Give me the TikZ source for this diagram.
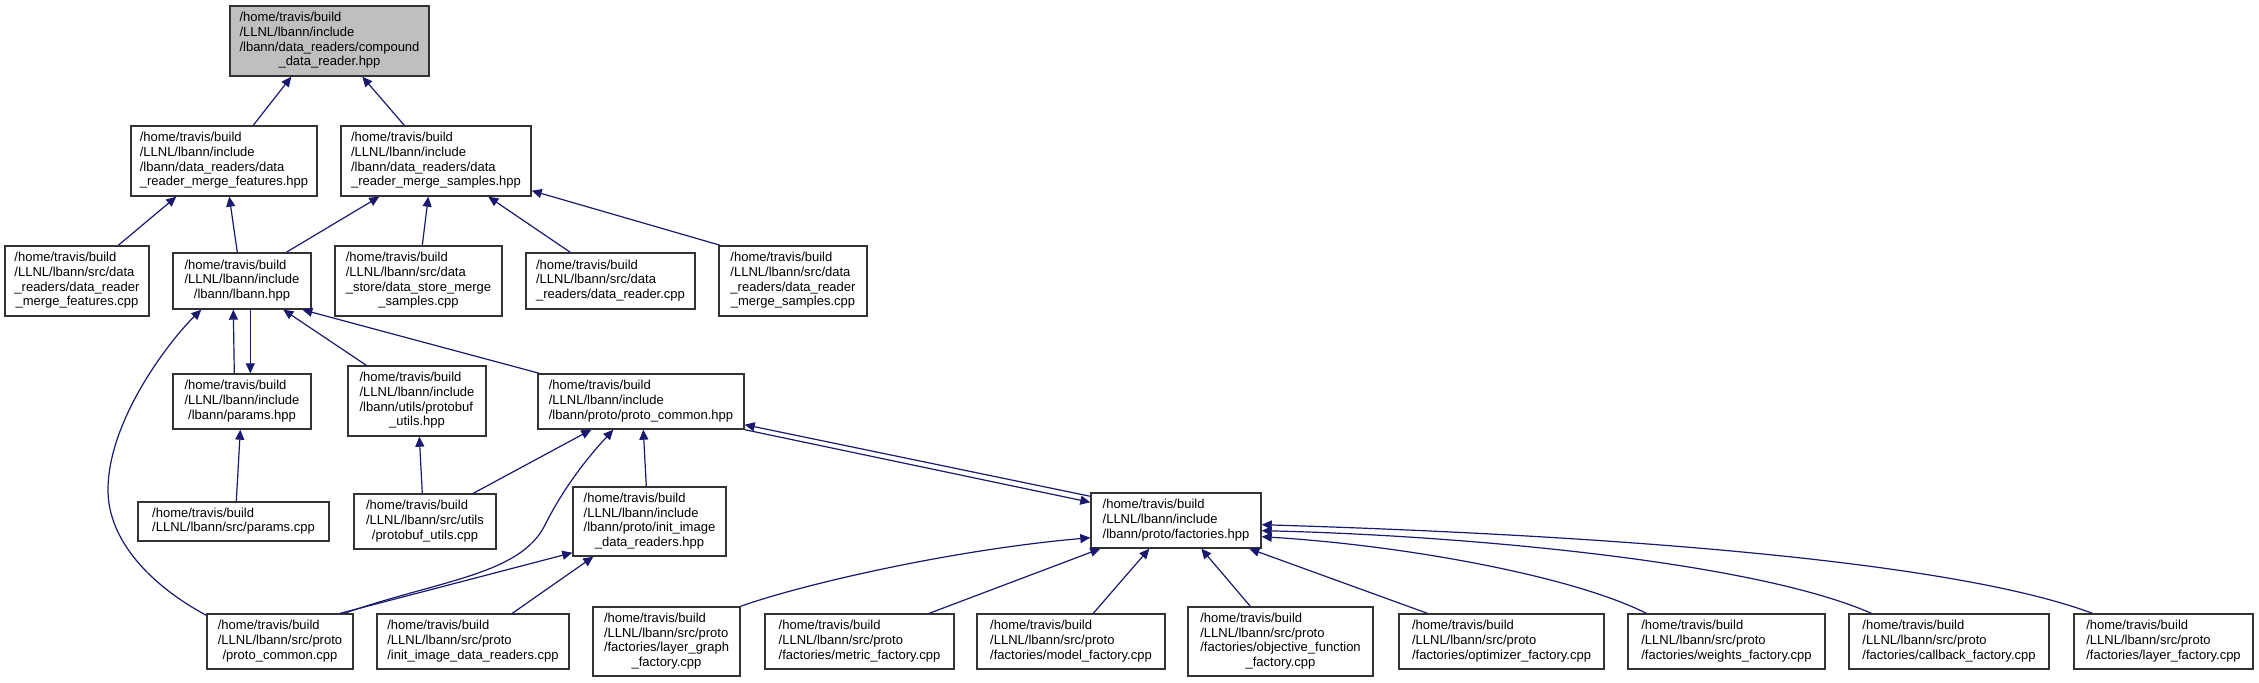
\documentclass[tikz,border=0pt]{standalone}
\usepackage{fontspec}
\setmainfont{Liberation Sans}
\usetikzlibrary{arrows.meta}
\definecolor{edgeblue}{HTML}{191970}
\definecolor{rootgray}{HTML}{BFBFBF}
\newcommand\lastln[1]{\multicolumn{1}{@{}c@{}}{#1}}
\newcommand\tb[1]{\begin{tabular}{@{}l@{}}#1\end{tabular}}
\begin{document}
\begin{tikzpicture}[x=0.5pt,y=-0.5pt,
  box/.style={draw=black!80, line width=0.7pt, fill=white, inner sep=0pt,
    font=\fontsize{6.5pt}{7.35pt}\selectfont},
  rootbox/.style={box, fill=rootgray},
  link/.style={draw=edgeblue, line width=0.6pt, -{Triangle[length=5pt,width=4.5pt]}}]
\fill[white] (0,0) rectangle (2259,683);
\useasboundingbox (0,0) rectangle (2259,683);

% row 0
\node[rootbox, minimum width=99.5pt, minimum height=35pt] (root) at (329.5,41)
  {\tb{/home/travis/build\\/LLNL/lbann/include\\/lbann/data\_readers/compound\\\lastln{\_data\_reader.hpp}}};
% row 1
\node[box, minimum width=93pt, minimum height=35pt] (mfh) at (224,161)
  {\tb{/home/travis/build\\/LLNL/lbann/include\\/lbann/data\_readers/data\\\lastln{\_reader\_merge\_features.hpp}}};
\node[box, minimum width=95pt, minimum height=35pt] (msh) at (436,161)
  {\tb{/home/travis/build\\/LLNL/lbann/include\\/lbann/data\_readers/data\\\lastln{\_reader\_merge\_samples.hpp}}};
% row 2
\node[box, minimum width=72pt, minimum height=35pt] (mfc) at (77,281)
  {\tb{/home/travis/build\\/LLNL/lbann/src/data\\\_readers/data\_reader\\\lastln{\_merge\_features.cpp}}};
\node[box, minimum width=69pt, minimum height=28pt] (lbh) at (242,281)
  {\tb{/home/travis/build\\/LLNL/lbann/include\\\lastln{/lbann/lbann.hpp}}};
\node[box, minimum width=83.5pt, minimum height=35pt] (dsc) at (418.5,281)
  {\tb{/home/travis/build\\/LLNL/lbann/src/data\\\_store/data\_store\_merge\\\lastln{\_samples.cpp}}};
\node[box, minimum width=84.5pt, minimum height=28pt] (drc) at (610.5,281)
  {\tb{/home/travis/build\\/LLNL/lbann/src/data\\\lastln{\_readers/data\_reader.cpp}}};
\node[box, minimum width=74pt, minimum height=35pt] (msc) at (793,281)
  {\tb{/home/travis/build\\/LLNL/lbann/src/data\\\_readers/data\_reader\\\lastln{\_merge\_samples.cpp}}};
% row 3
\node[box, minimum width=69pt, minimum height=27.5pt] (parh) at (242,401.5)
  {\tb{/home/travis/build\\/LLNL/lbann/include\\\lastln{/lbann/params.hpp}}};
\node[box, minimum width=69pt, minimum height=35pt] (pbh) at (417,401)
  {\tb{/home/travis/build\\/LLNL/lbann/include\\/lbann/utils/protobuf\\\lastln{\_utils.hpp}}};
\node[box, minimum width=103pt, minimum height=27.5pt] (pch) at (641,401.5)
  {\tb{/home/travis/build\\/LLNL/lbann/include\\\lastln{/lbann/proto/proto\_common.hpp}}};
% row 4
\node[box, minimum width=95.5pt, minimum height=19.5pt] (parc) at (233.5,521.5)
  {\tb{/home/travis/build\\\lastln{/LLNL/lbann/src/params.cpp}}};
\node[box, minimum width=71pt, minimum height=27.5pt] (pbc) at (425,521.5)
  {\tb{/home/travis/build\\/LLNL/lbann/src/utils\\\lastln{/protobuf\_utils.cpp}}};
\node[box, minimum width=76.5pt, minimum height=34.5pt] (iih) at (649.5,521.5)
  {\tb{/home/travis/build\\/LLNL/lbann/include\\/lbann/proto/init\_image\\\lastln{\_data\_readers.hpp}}};
\node[box, minimum width=85pt, minimum height=27.5pt] (fah) at (1176,520.5)
  {\tb{/home/travis/build\\/LLNL/lbann/include\\\lastln{/lbann/proto/factories.hpp}}};
% row 5
\node[box, minimum width=73pt, minimum height=27.5pt] (pcc) at (280,641.5)
  {\tb{/home/travis/build\\/LLNL/lbann/src/proto\\\lastln{/proto\_common.cpp}}};
\node[box, minimum width=96pt, minimum height=27.5pt] (iic) at (473,641.5)
  {\tb{/home/travis/build\\/LLNL/lbann/src/proto\\\lastln{/init\_image\_data\_readers.cpp}}};
\node[box, minimum width=73.5pt, minimum height=34.5pt] (lgf) at (666.5,641.5)
  {\tb{/home/travis/build\\/LLNL/lbann/src/proto\\/factories/layer\_graph\\\lastln{\_factory.cpp}}};
\node[box, minimum width=94.5pt, minimum height=27.5pt] (mef) at (859.5,641.5)
  {\tb{/home/travis/build\\/LLNL/lbann/src/proto\\\lastln{/factories/metric\_factory.cpp}}};
\node[box, minimum width=94pt, minimum height=27.5pt] (mof) at (1071,641.5)
  {\tb{/home/travis/build\\/LLNL/lbann/src/proto\\\lastln{/factories/model\_factory.cpp}}};
\node[box, minimum width=92.5pt, minimum height=34.5pt] (off) at (1280.5,641.5)
  {\tb{/home/travis/build\\/LLNL/lbann/src/proto\\/factories/objective\_function\\\lastln{\_factory.cpp}}};
\node[box, minimum width=102.5pt, minimum height=27.5pt] (opf) at (1501.5,641.5)
  {\tb{/home/travis/build\\/LLNL/lbann/src/proto\\\lastln{/factories/optimizer\_factory.cpp}}};
\node[box, minimum width=98.5pt, minimum height=27.5pt] (wef) at (1726.5,641.5)
  {\tb{/home/travis/build\\/LLNL/lbann/src/proto\\\lastln{/factories/weights\_factory.cpp}}};
\node[box, minimum width=100pt, minimum height=27.5pt] (caf) at (1949,641.5)
  {\tb{/home/travis/build\\/LLNL/lbann/src/proto\\\lastln{/factories/callback\_factory.cpp}}};
\node[box, minimum width=89.5pt, minimum height=27.5pt] (laf) at (2163.5,641.5)
  {\tb{/home/travis/build\\/LLNL/lbann/src/proto\\\lastln{/factories/layer\_factory.cpp}}};

% connectors
\draw[link] ([xshift=61.5pt]mfh.north west) -- ([xshift=31pt]root.south west);
\draw[link] ([xshift=32pt]msh.north west) -- ([xshift=66.5pt]root.south west);
\draw[link] ([xshift=57pt]mfc.north west) -- ([xshift=23pt]mfh.south west);
\draw[link] ([xshift=32.5pt]lbh.north west) -- ([xshift=49.5pt]mfh.south west);
\draw[link] ([xshift=57pt]lbh.north west) -- ([xshift=19.5pt]msh.south west);
\draw[link] ([xshift=44pt]dsc.north west) -- ([xshift=44pt]msh.south west);
\draw[link] ([xshift=22.5pt]drc.north west) -- ([xshift=74pt]msh.south west);
\draw[link] ([xshift=1pt]msc.north west) -- ([yshift=3pt]msh.south east);
\draw[link] ([xshift=31pt]parh.north west) -- ([xshift=30.5pt]lbh.south west);
\draw[link] ([xshift=39pt]lbh.south west) -- ([xshift=39pt]parh.north west);
\draw[link] ([yshift=-1pt]pcc.north west) .. controls (150,585) and (108,540) .. (108,490)
  .. controls (108,420) and (170,340) .. ([xshift=14.5pt]lbh.south west);
\draw[link] ([xshift=9.5pt]pbh.north west) -- ([xshift=55.5pt]lbh.south west);
\draw[link] ([xshift=1pt]pch.north west) -- ([xshift=65pt]lbh.south west);
\draw[link] ([xshift=49.5pt]parc.north west) -- ([xshift=34pt]parh.south west);
\draw[link] ([xshift=34.5pt]pbc.north west) -- ([xshift=36pt]pbh.south west);
\draw[link] ([xshift=60pt]pbc.north west) -- ([xshift=27pt]pch.south west);
\draw[link] ([xshift=69pt]pcc.north west) .. controls (440,580) and (520,575) .. (545,525)
  .. controls (565,485) and (590,455) .. ([xshift=38pt]pch.south west);
\draw[link] ([xshift=37pt]iih.north west) -- ([xshift=53pt]pch.south west);
\draw[link] ([xshift=67pt]pcc.north west) -- ([yshift=2pt]iih.south west);
\draw[link] ([xshift=68pt]iic.north west) -- ([xshift=10.5pt]iih.south west);
\draw[link] ([yshift=-2pt]fah.north west) -- ([yshift=2.5pt]pch.south east);
\draw[link] (pch.south east) -- ([yshift=-5pt]fah.north west);
\draw[link] (lgf.north east) .. controls (800,585) and (950,550) .. ([yshift=5.5pt]fah.south west);
\draw[link] ([xshift=82.5pt]mef.north west) -- ([xshift=5pt]fah.south west);
\draw[link] ([xshift=58.5pt]mof.north west) -- ([xshift=29.5pt]fah.south west);
\draw[link] ([xshift=31.5pt]off.north west) -- ([xshift=55.5pt]fah.south west);
\draw[link] ([xshift=14.5pt]opf.north west) -- ([xshift=79.5pt]fah.south west);
\draw[link] ([xshift=9.5pt]wef.north west) .. controls (1570,575) and (1400,545) .. ([yshift=6pt]fah.south east);
\draw[link] ([xshift=11.5pt]caf.north west) .. controls (1750,560) and (1450,535) .. ([yshift=9pt]fah.south east);
\draw[link] ([xshift=9.5pt]laf.north west) .. controls (1950,560) and (1600,535) .. ([yshift=12pt]fah.south east);
\end{tikzpicture}
\end{document}
